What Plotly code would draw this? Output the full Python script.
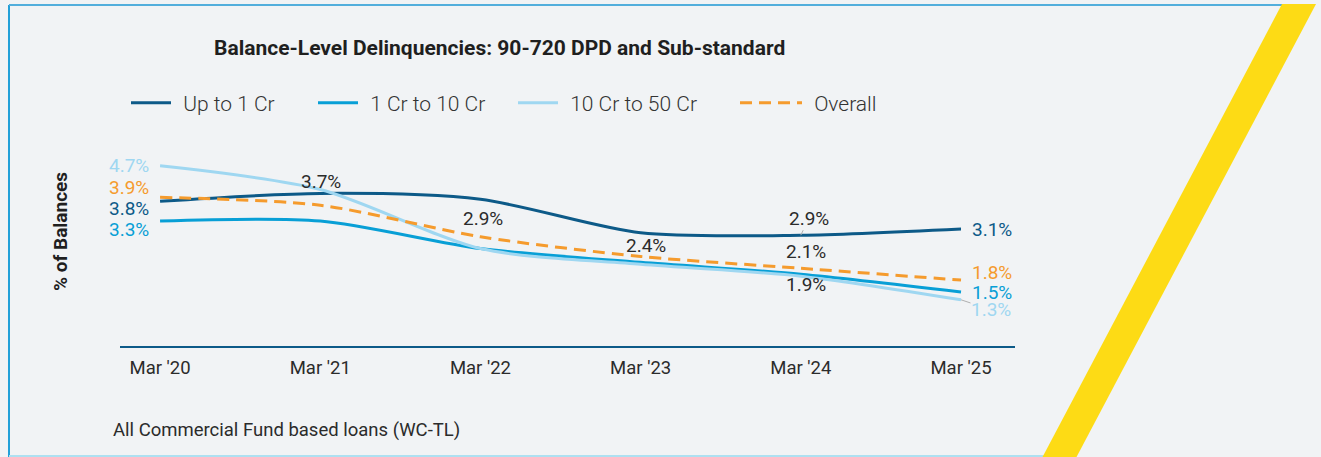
import plotly.graph_objects as go

# ---------------- data ----------------
periods = ["Mar '20", "Mar '21", "Mar '22", "Mar '23", "Mar '24", "Mar '25"]
up_to_1cr = [3.8, 4.0, 3.85, 3.0, 2.94, 3.1]
cr1_to_10 = [3.3, 3.3, 2.6, 2.25, 1.95, 1.5]
cr10_to_50 = [4.7, 4.1, 2.6, 2.2, 1.9, 1.3]
overall = [3.9, 3.7, 2.9, 2.4, 2.1, 1.8]
series_names = ["Up to 1 Cr", "1 Cr to 10 Cr", "10 Cr to 50 Cr", "Overall"]

title_text = "Balance-Level Delinquencies: 90-720 DPD and Sub-standard"
y_title = "% of Balances"
footnote = "All Commercial Fund based loans (WC-TL)"

# ---------------- style ----------------
C_DARK = "#0d5a88"
C_MID = "#089fd6"
C_LIGHT = "#9fd7f1"
C_ORANGE = "#f59b2d"
TXT = "#2b2b2b"
BG = "#f1f3f5"
FONT = "Roboto"

W, H = 1321, 457
L, R_EDGE, T, B_EDGE = 120, 1015, 130, 346


def pxx(x):
    return (x - L) / (R_EDGE - L)


def pxy(y):
    return (B_EDGE - y) / (B_EDGE - T)


fig = go.Figure()
series = [
    (series_names[0], up_to_1cr, C_DARK, "solid", "legend"),
    (series_names[1], cr1_to_10, C_MID, "solid", "legend2"),
    (series_names[2], cr10_to_50, C_LIGHT, "solid", "legend3"),
    (series_names[3], overall, C_ORANGE, "12px,7px", "legend4"),
]
for name, vals, col, dash, lg in series:
    fig.add_trace(go.Scatter(
        x=periods, y=vals, name="\u2004" + name, mode="lines", legend=lg,
        line=dict(color=col, width=3, dash=dash, shape="spline", smoothing=0.8),
        hoverinfo="skip",
    ))

ann = []
LBL = 19


def lab(i, vals, col, xs=0, ys=0, xanchor="center", arrow=False, ax=0, ay=0):
    a = dict(x=periods[i], y=vals[i], xref="x", yref="y",
             text=f"{vals[i]:.1f}%", font=dict(family=FONT, size=LBL, color=col),
             showarrow=False, xshift=xs, yshift=ys, xanchor=xanchor, yanchor="middle",
             borderpad=0)
    if arrow:
        a.update(showarrow=True, arrowhead=0, arrowwidth=1, arrowcolor="#b0b0b0",
                 ax=ax, ay=ay, xshift=0, yshift=0, standoff=0)
    ann.append(a)


# left labels
lab(0, cr10_to_50, C_LIGHT, xs=-10, ys=0, xanchor="right")
lab(0, overall, C_ORANGE, xs=-10, ys=10, xanchor="right")
lab(0, up_to_1cr, C_DARK, xs=-10, ys=-7, xanchor="right")
lab(0, cr1_to_10, C_MID, xs=-10, ys=-8, xanchor="right")
# right labels
lab(5, up_to_1cr, C_DARK, xs=10, ys=-1, xanchor="left")
lab(5, overall, C_ORANGE, xs=10, ys=8, xanchor="left")
lab(5, cr1_to_10, C_MID, xs=10, ys=-1, xanchor="left")
lab(5, cr10_to_50, C_LIGHT, arrow=True, ax=30, ay=10)
# middle labels
lab(1, overall, TXT, xs=1, ys=24)
lab(2, overall, TXT, xs=3, ys=18)
lab(3, overall, TXT, xs=5, ys=11)
lab(4, overall, TXT, xs=5, ys=17)
lab(4, up_to_1cr, TXT, arrow=True, ax=8, ay=-17)
lab(4, cr1_to_10, TXT, xs=5, ys=-10)

ann.append(dict(xref="paper", yref="paper", x=pxx(212), y=pxy(48), text=f"<b>{title_text}</b>",
                showarrow=False, xanchor="left", yanchor="middle",
                font=dict(family=FONT, size=21, color="#1f1f1f")))
ann.append(dict(xref="paper", yref="paper", x=pxx(60), y=pxy(232), text=f"<b>{y_title}</b>",
                showarrow=False, textangle=-90, xanchor="center", yanchor="middle",
                font=dict(family=FONT, size=19, color="#1f1f1f")))
ann.append(dict(xref="paper", yref="paper", x=pxx(111), y=pxy(430), text=footnote,
                showarrow=False, xanchor="left", yanchor="middle",
                font=dict(family=FONT, size=18.5, color="#2b2b2b")))

shapes = [
    # frame
    dict(type="line", xref="paper", yref="paper", x0=pxx(9), x1=pxx(9), y0=pxy(5), y1=pxy(460),
         line=dict(color="#22a0d8", width=2)),
    dict(type="line", xref="paper", yref="paper", x0=pxx(9), x1=pxx(1284), y0=pxy(5), y1=pxy(5),
         line=dict(color="#52aedc", width=2)),
    dict(type="line", xref="paper", yref="paper", x0=pxx(9), x1=pxx(1044), y0=pxy(456), y1=pxy(456),
         line=dict(color="#aee0f1", width=2)),
    # yellow stripe
    dict(type="path", xref="paper", yref="paper",
         path=f"M {pxx(1282)},{pxy(4)} L {pxx(1316)},{pxy(4)} L {pxx(1076)},{pxy(458)} L {pxx(1042)},{pxy(458)} Z",
         fillcolor="#fddb15", line=dict(width=0)),
]


def legend_at(xpix, iw=40):
    return dict(orientation="h", x=pxx(xpix - 5), y=pxy(103), xanchor="left", yanchor="middle",
                font=dict(family=FONT, size=21, color="#333333", weight=300),
                bgcolor="rgba(0,0,0,0)", itemwidth=iw)


fig.update_layout(
    width=W, height=H,
    margin=dict(l=L, r=W - R_EDGE, t=T, b=H - B_EDGE),
    paper_bgcolor=BG, plot_bgcolor=BG,
    font=dict(family=FONT, color=TXT),
    showlegend=True,
    legend=legend_at(131),
    legend2=legend_at(318),
    legend3=legend_at(518),
    legend4=legend_at(740, iw=62),
    xaxis=dict(range=[-0.25, 5.337], showgrid=False, zeroline=False, showline=True,
               linecolor=C_DARK, linewidth=1.5, ticks="", fixedrange=True,
               tickfont=dict(family=FONT, size=18.5, color="#2b2b2b"), ticklabelstandoff=4),
    yaxis=dict(range=[0.127, 5.61], showgrid=False, zeroline=False, showline=False,
               showticklabels=False, ticks="", fixedrange=True),
    annotations=ann, shapes=shapes,
)

fig.write_html("out.html", config={"displayModeBar": False},
               post_script="document.body.style.margin='0';document.body.style.background='%s';" % BG)
